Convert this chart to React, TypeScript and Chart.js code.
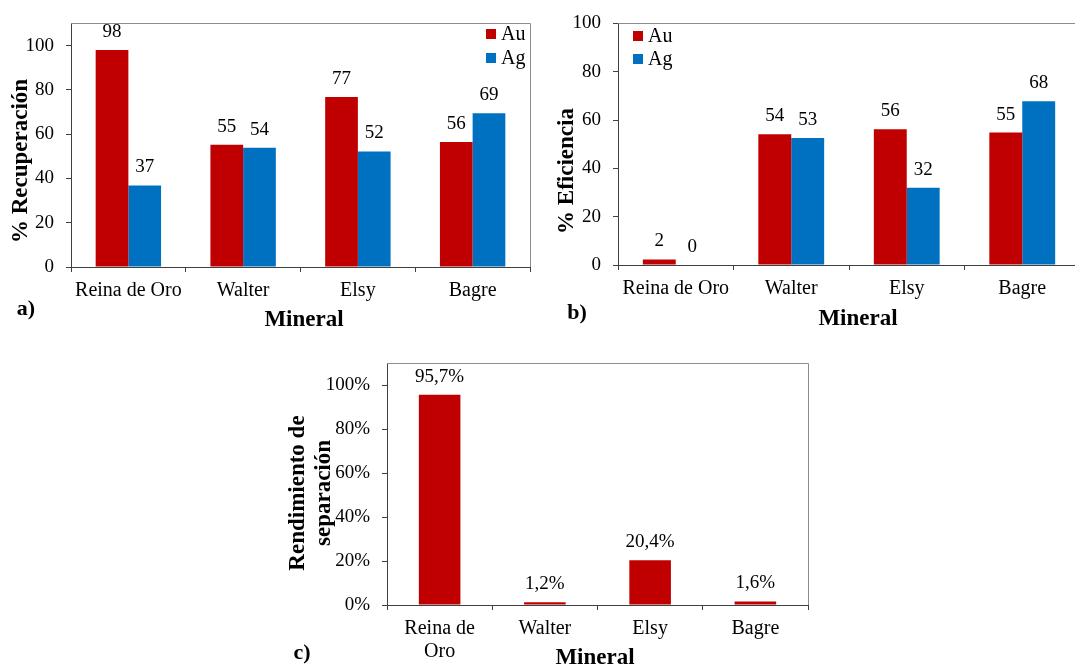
import React, { useEffect, useRef } from 'react';
import { Chart, registerables } from 'chart.js';

Chart.register(...registerables);

// ---------- data ----------
const minerals = ['Reina de Oro', 'Walter', 'Elsy', 'Bagre'];
const mineralsC = [['Reina de', 'Oro'], 'Walter', 'Elsy', 'Bagre'];
const seriesNames = ['Au', 'Ag'];
const recuperacionAu = [98, 55.2, 76.8, 56.4];
const recuperacionAg = [36.8, 53.8, 52.2, 69.4];
const eficienciaAu = [2.3, 54.1, 56.2, 54.8];
const eficienciaAg = [0, 52.6, 32.0, 67.8];
const rendimiento = [95.7, 1.2, 20.4, 1.6];

// ---------- style ----------
const FONT = '"Liberation Serif", "Times New Roman", serif';
const RED = '#C00000';
const BLUE = '#0070C0';
const AXIS = '#404040';
const FRAME = '#8c8c8c';
const TEXT = '#000000';

const framePlugin = {
  id: 'frame',
  afterDraw(chart: any) {
    const { ctx, chartArea: a } = chart;
    ctx.save();
    ctx.strokeStyle = FRAME;
    ctx.lineWidth = 1;
    ctx.beginPath();
    ctx.moveTo(a.left, Math.round(a.top) + 0.5);
    ctx.lineTo(Math.round(a.right) + 0.5, Math.round(a.top) + 0.5);
    ctx.lineTo(Math.round(a.right) + 0.5, a.bottom);
    ctx.stroke();
    ctx.restore();
  },
};

const valueLabelPlugin = {
  id: 'valueLabels',
  afterDatasetsDraw(chart: any, _args: any, opts: any) {
    const { ctx } = chart;
    ctx.save();
    ctx.font = `${opts.size}px ${FONT}`;
    ctx.fillStyle = TEXT;
    ctx.textAlign = 'center';
    ctx.textBaseline = 'middle';
    chart.data.datasets.forEach((ds: any, i: number) => {
      const meta = chart.getDatasetMeta(i);
      meta.data.forEach((bar: any, j: number) => {
        ctx.fillText(opts.format(ds.data[j]), bar.x, bar.y - opts.offset);
      });
    });
    ctx.restore();
  },
};

const textPlugin = {
  id: 'texts',
  afterDraw(chart: any, _args: any, opts: any) {
    const { ctx } = chart;
    (opts.items || []).forEach((it: any) => {
      ctx.save();
      ctx.font = it.font;
      ctx.fillStyle = TEXT;
      ctx.textAlign = 'center';
      ctx.textBaseline = 'middle';
      ctx.translate(it.x, it.y);
      if (it.rotate) ctx.rotate(-Math.PI / 2);
      ctx.fillText(it.text, 0, 0);
      ctx.restore();
    });
  },
};

const innerLegendPlugin = {
  id: 'innerLegend',
  afterDraw(chart: any, _args: any, opts: any) {
    if (!opts || !opts.show) return;
    const { ctx } = chart;
    ctx.save();
    ctx.font = `${opts.size}px ${FONT}`;
    ctx.textAlign = 'left';
    ctx.textBaseline = 'middle';
    chart.data.datasets.forEach((ds: any, i: number) => {
      const cy = opts.y + i * opts.dy;
      ctx.fillStyle = ds.backgroundColor;
      ctx.fillRect(opts.x, cy - opts.box / 2, opts.box, opts.box);
      ctx.fillStyle = TEXT;
      ctx.fillText(ds.label, opts.x + opts.box + opts.gap, cy + 1);
    });
    ctx.restore();
  },
};

function makeConfig(p: any) {
  return {
    type: 'bar',
    data: {
      labels: p.labels,
      datasets: p.datasets,
    },
    plugins: [framePlugin, valueLabelPlugin, textPlugin, innerLegendPlugin],
    options: {
      responsive: false,
      animation: false,
      devicePixelRatio: 1,
      layout: { padding: { left: 0, top: p.padTop, right: p.padRight, bottom: 0 } },
      plugins: {
        legend: { display: false },
        tooltip: { enabled: false },
        valueLabels: { size: 19, offset: 18, format: p.format },
        texts: { items: p.texts },
        innerLegend: p.legend,
      },
      scales: {
        x: {
          type: 'category',
          offset: true,
          grid: {
            display: true,
            offset: true,
            drawOnChartArea: false,
            drawTicks: true,
            tickLength: 5,
            color: AXIS,
            lineWidth: 1,
          },
          border: { display: true, color: AXIS, width: 1 },
          ticks: {
            color: TEXT,
            font: { family: FONT, size: 20, lineHeight: 1.15 },
            padding: 7,
            maxRotation: 0,
            minRotation: 0,
            autoSkip: false,
          },
          afterFit: (s: any) => {
            s.height = p.xAxisHeight;
          },
        },
        y: {
          min: 0,
          max: p.max,
          grid: {
            display: true,
            drawOnChartArea: false,
            drawTicks: true,
            tickLength: 5,
            color: AXIS,
            lineWidth: 1,
          },
          border: { display: true, color: AXIS, width: 1 },
          ticks: {
            stepSize: 10,
            color: TEXT,
            font: { family: FONT, size: 19 },
            padding: p.tickPad,
            callback: p.tickFormat,
          },
          afterFit: (s: any) => {
            s.width = p.yAxisWidth;
          },
        },
      },
    },
  };
}

const intTick = (v: any) => (Math.round(v) % 20 === 0 ? String(Math.round(v)) : '');
const pctTick = (v: any) => (Math.round(v) % 20 === 0 ? `${Math.round(v)}%` : '');
const intFmt = (v: number) => String(Math.round(v));
const pctFmt = (v: number) => `${v.toFixed(1).replace('.', ',')}%`;

const BOLD = (s: number) => `bold ${s}px ${FONT}`;

function ChartCanvas({ left, top, width, height, config }: any) {
  const ref = useRef<HTMLCanvasElement | null>(null);
  useEffect(() => {
    if (!ref.current) return;
    const chart = new Chart(ref.current, config);
    return () => chart.destroy();
  }, []);
  return (
    <canvas
      ref={ref}
      width={width}
      height={height}
      style={{ position: 'absolute', left, top, width, height }}
    />
  );
}

export default function App() {
  const cfgA = makeConfig({
    labels: minerals,
    datasets: [
      { label: seriesNames[0], data: recuperacionAu, backgroundColor: RED, borderWidth: 0, barPercentage: 1, categoryPercentage: 0.57 },
      { label: seriesNames[1], data: recuperacionAg, backgroundColor: BLUE, borderWidth: 0, barPercentage: 1, categoryPercentage: 0.57 },
    ],
    max: 110,
    padTop: 22,
    padRight: 10,
    xAxisHeight: 73,
    yAxisWidth: 71,
    tickPad: 12,
    tickFormat: intTick,
    format: intFmt,
    legend: { show: true, x: 486, y: 34, dy: 24, box: 10, gap: 5, size: 20 },
    texts: [
      { text: '% Recuperación', x: 21, y: 161, rotate: true, font: BOLD(23) },
      { text: 'Mineral', x: 304, y: 320, font: BOLD(23) },
      { text: 'a)', x: 26, y: 309, font: BOLD(22) },
    ],
  });

  const cfgB = makeConfig({
    labels: minerals,
    datasets: [
      { label: seriesNames[0], data: eficienciaAu, backgroundColor: RED, borderWidth: 0, barPercentage: 1, categoryPercentage: 0.57 },
      { label: seriesNames[1], data: eficienciaAg, backgroundColor: BLUE, borderWidth: 0, barPercentage: 1, categoryPercentage: 0.57 },
    ],
    max: 100,
    padTop: 20,
    padRight: 5,
    xAxisHeight: 75,
    yAxisWidth: 78,
    tickPad: 12,
    tickFormat: intTick,
    format: intFmt,
    legend: { show: true, x: 93, y: 36, dy: 23, box: 10, gap: 5, size: 20 },
    texts: [
      { text: '% Eficiencia', x: 27, y: 171, rotate: true, font: BOLD(23) },
      { text: 'Mineral', x: 318, y: 319, font: BOLD(23) },
      { text: 'b)', x: 37, y: 313, font: BOLD(22) },
    ],
  });

  const cfgC = makeConfig({
    labels: mineralsC,
    datasets: [
      { label: 'Rendimiento', data: rendimiento, backgroundColor: RED, borderWidth: 0, barPercentage: 1, categoryPercentage: 0.395 },
    ],
    max: 110,
    padTop: 19,
    padRight: 7,
    xAxisHeight: 64,
    yAxisWidth: 117,
    tickPad: 12,
    tickFormat: pctTick,
    format: pctFmt,
    legend: { show: false },
    texts: [
      { text: 'Rendimiento de', x: 28, y: 153, rotate: true, font: BOLD(23) },
      { text: 'separación', x: 54, y: 153, rotate: true, font: BOLD(23) },
      { text: 'Mineral', x: 325, y: 318, font: BOLD(23) },
      { text: 'c)', x: 32, y: 313, font: BOLD(22) },
    ],
  });

  return (
    <div
      style={{
        position: 'absolute',
        left: 0,
        top: 0,
        width: 1075,
        height: 669,
        overflow: 'hidden',
        background: '#ffffff',
      }}
    >
      <ChartCanvas left={0} top={0} width={540} height={340} config={cfgA} />
      <ChartCanvas left={540} top={0} width={545} height={340} config={cfgB} />
      <ChartCanvas left={270} top={340} width={545} height={329} config={cfgC} />
    </div>
  );
}
